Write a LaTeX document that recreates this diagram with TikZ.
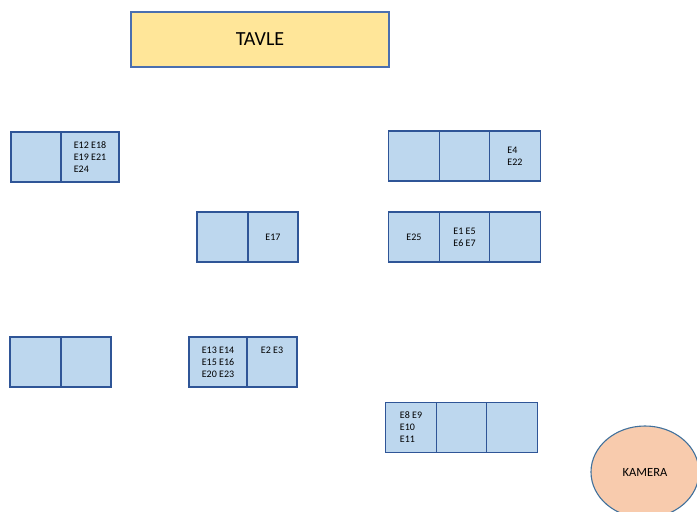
\documentclass[tikz,border=0pt]{standalone}
\usepackage{fontspec}
\setmainfont{Carlito}
\usetikzlibrary{shapes.geometric}
\definecolor{deskfill}{HTML}{BDD7EE}
\definecolor{deskline}{HTML}{2F5597}
\definecolor{boardfill}{HTML}{FFE699}
\definecolor{boardline}{HTML}{4A6FB0}
\definecolor{camfill}{HTML}{F8CBAD}
\definecolor{camline}{HTML}{41719C}
\begin{document}
\begin{tikzpicture}[x=1pt,y=-1pt,
  cell/.style={draw=deskline, fill=deskfill, line width=1.1pt, minimum height=50pt,
    inner sep=0pt, font=\fontsize{10}{12}\selectfont, align=left},
  board/.style={draw=boardline, fill=boardfill, line width=1.1pt, minimum width=258pt,
    minimum height=55pt, font=\fontsize{20}{22}\selectfont},
  cam/.style={ellipse, draw=camline, fill=camfill, line width=1.1pt, minimum width=108pt,
    minimum height=92pt, inner sep=0pt, font=\fontsize{12.5}{14}\selectfont}]
\useasboundingbox (0,0) rectangle (697,512);
\node[board] (tavle) at (260,39.5) {TAVLE};
% group 1
\node[cell, minimum width=50pt] (a1) at (36,157) {};
\node[cell, minimum width=58pt] (a2) at (90,157) {E12 E18\\E19 E21\\E24};
% top right
\node[cell, minimum width=50.5pt] (b1) at (414,156) {};
\node[cell, minimum width=50.5pt] (b2) at (464.5,156) {};
\node[cell, minimum width=50.5pt] (b3) at (515,156) {E4\\E22};
% E17
\node[cell, minimum width=51pt] (c1) at (222.5,237) {};
\node[cell, minimum width=50pt] (c2) at (273,237) {E17};
% E25
\node[cell, minimum width=50.5pt] (d1) at (414,237) {E25};
\node[cell, minimum width=50.5pt] (d2) at (464.5,237) {E1 E5\\E6 E7};
\node[cell, minimum width=50.5pt] (d3) at (515,237) {};
% bottom left
\node[cell, minimum width=51pt] (e1) at (35.5,362) {};
\node[cell, minimum width=50pt] (e2) at (86,362) {};
% E13 group
\node[cell, minimum width=58pt] (f1) at (218,362) {E13 E14\\E15 E16\\E20 E23};
\node[cell, minimum width=50pt, align=center] (f2) at (272,362) {E2 E3\\[11pt]\mbox{}};
% E8 group
\node[cell, minimum width=50.5pt] (g1) at (411,427.5) {E8 E9\\E10\\E11};
\node[cell, minimum width=50.5pt] (g2) at (461.5,427.5) {};
\node[cell, minimum width=50.5pt] (g3) at (512,427.5) {};
% camera
\node[cam] (kamera) at (645,472) {KAMERA};
\end{tikzpicture}
\end{document}
